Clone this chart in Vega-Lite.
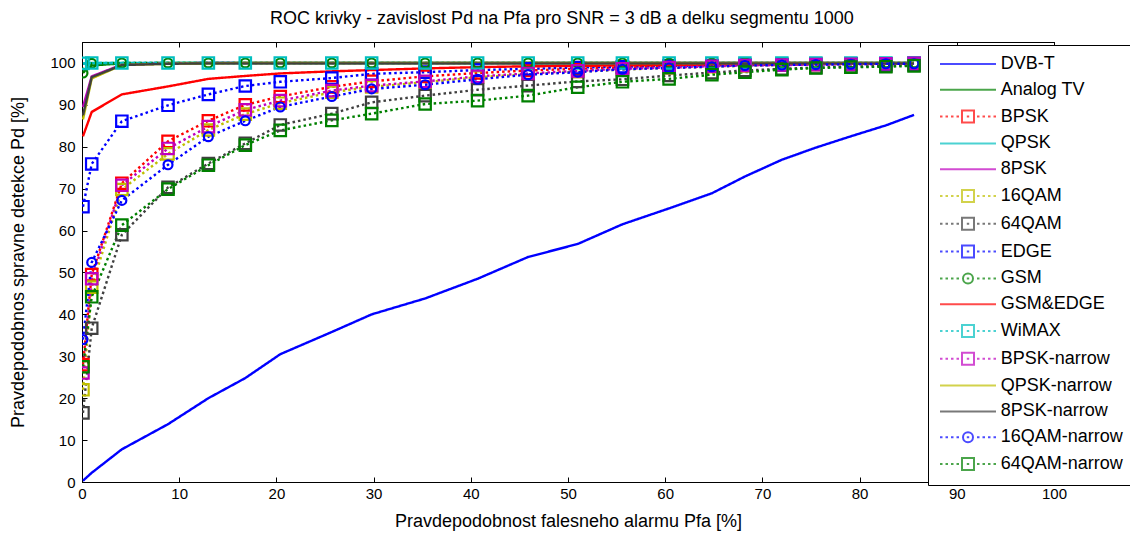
{
"$schema": "https://vega.github.io/schema/vega-lite/v6.json",
"width": 972, "height": 440,
"autosize": "none",
"padding": {"left": 82, "top": 42, "right": 76, "bottom": 53},
"background": "white",
"config": {
  "font": "Liberation Sans",
  "view": {"stroke": "black", "strokeWidth": 1},
  "axis": {"grid": false, "domainColor": "black", "tickColor": "black", "labelColor": "black", "titleColor": "black", "labelFontSize": 15, "titleFontSize": 18, "titleFontWeight": "normal", "labelFont": "Liberation Sans", "titleFont": "Liberation Sans", "labelFlush": false, "labelOverlap": false}
},
"title": {"text": "ROC krivky - zavislost Pd na Pfa pro SNR = 3 dB a delku segmentu 1000", "fontSize": 18, "fontWeight": "normal", "font": "Liberation Sans", "color": "black", "anchor": "middle", "baseline": "alphabetic", "offset": 0, "dx": -6},
"data": {"values": [
{"s":"DVB-T","x":0.1,"y":0.3},{"s":"DVB-T","x":1.0,"y":2.2},{"s":"DVB-T","x":4.1,"y":7.8},{"s":"DVB-T","x":8.85,"y":13.8},{"s":"DVB-T","x":13.0,"y":20.0},{"s":"DVB-T","x":16.8,"y":24.8},{"s":"DVB-T","x":20.4,"y":30.5},{"s":"DVB-T","x":25.7,"y":35.8},{"s":"DVB-T","x":29.8,"y":40.0},{"s":"DVB-T","x":35.3,"y":43.8},{"s":"DVB-T","x":40.7,"y":48.5},{"s":"DVB-T","x":45.9,"y":53.7},{"s":"DVB-T","x":51.0,"y":56.8},{"s":"DVB-T","x":55.6,"y":61.5},{"s":"DVB-T","x":60.4,"y":65.3},{"s":"DVB-T","x":64.8,"y":68.9},{"s":"DVB-T","x":68.2,"y":72.9},{"s":"DVB-T","x":72.0,"y":76.9},{"s":"DVB-T","x":75.5,"y":79.8},{"s":"DVB-T","x":79.1,"y":82.5},{"s":"DVB-T","x":82.7,"y":85.1},{"s":"DVB-T","x":85.6,"y":87.6},
{"s":"Analog TV","x":0.1,"y":97.8},{"s":"Analog TV","x":1.0,"y":99.4},{"s":"Analog TV","x":4.1,"y":99.9},{"s":"Analog TV","x":8.85,"y":100},{"s":"Analog TV","x":13.0,"y":100},{"s":"Analog TV","x":16.8,"y":100},{"s":"Analog TV","x":20.4,"y":100},{"s":"Analog TV","x":25.7,"y":100},{"s":"Analog TV","x":29.8,"y":100},{"s":"Analog TV","x":35.3,"y":100},{"s":"Analog TV","x":40.7,"y":100},{"s":"Analog TV","x":45.9,"y":100},{"s":"Analog TV","x":51.0,"y":100},{"s":"Analog TV","x":55.6,"y":100},{"s":"Analog TV","x":60.4,"y":100},{"s":"Analog TV","x":64.8,"y":100},{"s":"Analog TV","x":68.2,"y":100},{"s":"Analog TV","x":72.0,"y":100},{"s":"Analog TV","x":75.5,"y":100},{"s":"Analog TV","x":79.1,"y":100},{"s":"Analog TV","x":82.7,"y":100},{"s":"Analog TV","x":85.6,"y":100},
{"s":"BPSK","x":0.1,"y":28},{"s":"BPSK","x":1.0,"y":49.5},{"s":"BPSK","x":4.1,"y":71.3},{"s":"BPSK","x":8.85,"y":81.3},{"s":"BPSK","x":13.0,"y":86.2},{"s":"BPSK","x":16.8,"y":90.0},{"s":"BPSK","x":20.4,"y":92.0},{"s":"BPSK","x":25.7,"y":94.3},{"s":"BPSK","x":29.8,"y":95.6},{"s":"BPSK","x":35.3,"y":96.8},{"s":"BPSK","x":40.7,"y":97.6},{"s":"BPSK","x":45.9,"y":98.2},{"s":"BPSK","x":51.0,"y":98.6},{"s":"BPSK","x":55.6,"y":98.9},{"s":"BPSK","x":60.4,"y":99.1},{"s":"BPSK","x":64.8,"y":99.3},{"s":"BPSK","x":68.2,"y":99.5},{"s":"BPSK","x":72.0,"y":99.6},{"s":"BPSK","x":75.5,"y":99.7},{"s":"BPSK","x":79.1,"y":99.8},{"s":"BPSK","x":82.7,"y":99.8},{"s":"BPSK","x":85.6,"y":99.9},
{"s":"QPSK","x":0.1,"y":99.8},{"s":"QPSK","x":1.0,"y":100},{"s":"QPSK","x":4.1,"y":100},{"s":"QPSK","x":8.85,"y":100},{"s":"QPSK","x":13.0,"y":100},{"s":"QPSK","x":16.8,"y":100},{"s":"QPSK","x":20.4,"y":100},{"s":"QPSK","x":25.7,"y":100},{"s":"QPSK","x":29.8,"y":100},{"s":"QPSK","x":35.3,"y":100},{"s":"QPSK","x":40.7,"y":100},{"s":"QPSK","x":45.9,"y":100},{"s":"QPSK","x":51.0,"y":100},{"s":"QPSK","x":55.6,"y":100},{"s":"QPSK","x":60.4,"y":100},{"s":"QPSK","x":64.8,"y":100},{"s":"QPSK","x":68.2,"y":100},{"s":"QPSK","x":72.0,"y":100},{"s":"QPSK","x":75.5,"y":100},{"s":"QPSK","x":79.1,"y":100},{"s":"QPSK","x":82.7,"y":100},{"s":"QPSK","x":85.6,"y":100},
{"s":"8PSK","x":0.1,"y":89.5},{"s":"8PSK","x":1.0,"y":96.8},{"s":"8PSK","x":4.1,"y":99.6},{"s":"8PSK","x":8.85,"y":99.9},{"s":"8PSK","x":13.0,"y":100},{"s":"8PSK","x":16.8,"y":100},{"s":"8PSK","x":20.4,"y":100},{"s":"8PSK","x":25.7,"y":100},{"s":"8PSK","x":29.8,"y":100},{"s":"8PSK","x":35.3,"y":100},{"s":"8PSK","x":40.7,"y":100},{"s":"8PSK","x":45.9,"y":100},{"s":"8PSK","x":51.0,"y":100},{"s":"8PSK","x":55.6,"y":100},{"s":"8PSK","x":60.4,"y":100},{"s":"8PSK","x":64.8,"y":100},{"s":"8PSK","x":68.2,"y":100},{"s":"8PSK","x":72.0,"y":100},{"s":"8PSK","x":75.5,"y":100},{"s":"8PSK","x":79.1,"y":100},{"s":"8PSK","x":82.7,"y":100},{"s":"8PSK","x":85.6,"y":100},
{"s":"16QAM","x":0.1,"y":22},{"s":"16QAM","x":1.0,"y":46.5},{"s":"16QAM","x":4.1,"y":69.8},{"s":"16QAM","x":8.85,"y":78.3},{"s":"16QAM","x":13.0,"y":84.0},{"s":"16QAM","x":16.8,"y":87.8},{"s":"16QAM","x":20.4,"y":90.4},{"s":"16QAM","x":25.7,"y":93.0},{"s":"16QAM","x":29.8,"y":94.3},{"s":"16QAM","x":35.3,"y":95.4},{"s":"16QAM","x":40.7,"y":96.6},{"s":"16QAM","x":45.9,"y":97.3},{"s":"16QAM","x":51.0,"y":97.9},{"s":"16QAM","x":55.6,"y":98.4},{"s":"16QAM","x":60.4,"y":98.8},{"s":"16QAM","x":64.8,"y":99.1},{"s":"16QAM","x":68.2,"y":99.3},{"s":"16QAM","x":72.0,"y":99.5},{"s":"16QAM","x":75.5,"y":99.6},{"s":"16QAM","x":79.1,"y":99.7},{"s":"16QAM","x":82.7,"y":99.8},{"s":"16QAM","x":85.6,"y":99.8},
{"s":"64QAM","x":0.1,"y":16.5},{"s":"64QAM","x":1.0,"y":36.7},{"s":"64QAM","x":4.1,"y":59.0},{"s":"64QAM","x":8.85,"y":70.3},{"s":"64QAM","x":13.0,"y":76.0},{"s":"64QAM","x":16.8,"y":80.8},{"s":"64QAM","x":20.4,"y":85.2},{"s":"64QAM","x":25.7,"y":87.9},{"s":"64QAM","x":29.8,"y":90.6},{"s":"64QAM","x":35.3,"y":92.2},{"s":"64QAM","x":40.7,"y":93.6},{"s":"64QAM","x":45.9,"y":94.6},{"s":"64QAM","x":51.0,"y":95.6},{"s":"64QAM","x":55.6,"y":96.1},{"s":"64QAM","x":60.4,"y":97.0},{"s":"64QAM","x":64.8,"y":97.7},{"s":"64QAM","x":68.2,"y":98.2},{"s":"64QAM","x":72.0,"y":98.6},{"s":"64QAM","x":75.5,"y":98.9},{"s":"64QAM","x":79.1,"y":99.1},{"s":"64QAM","x":82.7,"y":99.3},{"s":"64QAM","x":85.6,"y":99.5},
{"s":"EDGE","x":0.1,"y":65.7},{"s":"EDGE","x":1.0,"y":75.9},{"s":"EDGE","x":4.1,"y":86.1},{"s":"EDGE","x":8.85,"y":89.9},{"s":"EDGE","x":13.0,"y":92.5},{"s":"EDGE","x":16.8,"y":94.5},{"s":"EDGE","x":20.4,"y":95.5},{"s":"EDGE","x":25.7,"y":96.4},{"s":"EDGE","x":29.8,"y":97.4},{"s":"EDGE","x":35.3,"y":97.8},{"s":"EDGE","x":40.7,"y":98.3},{"s":"EDGE","x":45.9,"y":98.6},{"s":"EDGE","x":51.0,"y":98.9},{"s":"EDGE","x":55.6,"y":99.1},{"s":"EDGE","x":60.4,"y":99.3},{"s":"EDGE","x":64.8,"y":99.4},{"s":"EDGE","x":68.2,"y":99.5},{"s":"EDGE","x":72.0,"y":99.6},{"s":"EDGE","x":75.5,"y":99.7},{"s":"EDGE","x":79.1,"y":99.8},{"s":"EDGE","x":82.7,"y":99.8},{"s":"EDGE","x":85.6,"y":99.9},
{"s":"GSM","x":0.1,"y":97.6},{"s":"GSM","x":1.0,"y":99.9},{"s":"GSM","x":4.1,"y":100},{"s":"GSM","x":8.85,"y":100},{"s":"GSM","x":13.0,"y":100},{"s":"GSM","x":16.8,"y":100},{"s":"GSM","x":20.4,"y":100},{"s":"GSM","x":25.7,"y":100},{"s":"GSM","x":29.8,"y":100},{"s":"GSM","x":35.3,"y":100},{"s":"GSM","x":40.7,"y":100},{"s":"GSM","x":45.9,"y":100},{"s":"GSM","x":51.0,"y":100},{"s":"GSM","x":55.6,"y":100},{"s":"GSM","x":60.4,"y":100},{"s":"GSM","x":64.8,"y":100},{"s":"GSM","x":68.2,"y":100},{"s":"GSM","x":72.0,"y":100},{"s":"GSM","x":75.5,"y":100},{"s":"GSM","x":79.1,"y":100},{"s":"GSM","x":82.7,"y":100},{"s":"GSM","x":85.6,"y":100},
{"s":"GSM&EDGE","x":0.1,"y":82.5},{"s":"GSM&EDGE","x":1.0,"y":88.3},{"s":"GSM&EDGE","x":4.1,"y":92.5},{"s":"GSM&EDGE","x":8.85,"y":94.4},{"s":"GSM&EDGE","x":13.0,"y":96.2},{"s":"GSM&EDGE","x":16.8,"y":96.9},{"s":"GSM&EDGE","x":20.4,"y":97.5},{"s":"GSM&EDGE","x":25.7,"y":98.0},{"s":"GSM&EDGE","x":29.8,"y":98.3},{"s":"GSM&EDGE","x":35.3,"y":98.7},{"s":"GSM&EDGE","x":40.7,"y":99.0},{"s":"GSM&EDGE","x":45.9,"y":99.2},{"s":"GSM&EDGE","x":51.0,"y":99.3},{"s":"GSM&EDGE","x":55.6,"y":99.4},{"s":"GSM&EDGE","x":60.4,"y":99.5},{"s":"GSM&EDGE","x":64.8,"y":99.6},{"s":"GSM&EDGE","x":68.2,"y":99.7},{"s":"GSM&EDGE","x":72.0,"y":99.7},{"s":"GSM&EDGE","x":75.5,"y":99.8},{"s":"GSM&EDGE","x":79.1,"y":99.8},{"s":"GSM&EDGE","x":82.7,"y":99.9},{"s":"GSM&EDGE","x":85.6,"y":99.9},
{"s":"WiMAX","x":0.1,"y":99.9},{"s":"WiMAX","x":1.0,"y":100},{"s":"WiMAX","x":4.1,"y":100},{"s":"WiMAX","x":8.85,"y":100},{"s":"WiMAX","x":13.0,"y":100},{"s":"WiMAX","x":16.8,"y":100},{"s":"WiMAX","x":20.4,"y":100},{"s":"WiMAX","x":25.7,"y":100},{"s":"WiMAX","x":29.8,"y":100},{"s":"WiMAX","x":35.3,"y":100},{"s":"WiMAX","x":40.7,"y":100},{"s":"WiMAX","x":45.9,"y":100},{"s":"WiMAX","x":51.0,"y":100},{"s":"WiMAX","x":55.6,"y":100},{"s":"WiMAX","x":60.4,"y":100},{"s":"WiMAX","x":64.8,"y":100},{"s":"WiMAX","x":68.2,"y":100},{"s":"WiMAX","x":72.0,"y":100},{"s":"WiMAX","x":75.5,"y":100},{"s":"WiMAX","x":79.1,"y":100},{"s":"WiMAX","x":82.7,"y":100},{"s":"WiMAX","x":85.6,"y":100},
{"s":"BPSK-narrow","x":0.1,"y":26},{"s":"BPSK-narrow","x":1.0,"y":48.5},{"s":"BPSK-narrow","x":4.1,"y":70.8},{"s":"BPSK-narrow","x":8.85,"y":79.6},{"s":"BPSK-narrow","x":13.0,"y":84.8},{"s":"BPSK-narrow","x":16.8,"y":88.8},{"s":"BPSK-narrow","x":20.4,"y":91.0},{"s":"BPSK-narrow","x":25.7,"y":93.4},{"s":"BPSK-narrow","x":29.8,"y":94.6},{"s":"BPSK-narrow","x":35.3,"y":95.6},{"s":"BPSK-narrow","x":40.7,"y":96.8},{"s":"BPSK-narrow","x":45.9,"y":97.5},{"s":"BPSK-narrow","x":51.0,"y":98.1},{"s":"BPSK-narrow","x":55.6,"y":98.6},{"s":"BPSK-narrow","x":60.4,"y":98.9},{"s":"BPSK-narrow","x":64.8,"y":99.2},{"s":"BPSK-narrow","x":68.2,"y":99.4},{"s":"BPSK-narrow","x":72.0,"y":99.5},{"s":"BPSK-narrow","x":75.5,"y":99.6},{"s":"BPSK-narrow","x":79.1,"y":99.7},{"s":"BPSK-narrow","x":82.7,"y":99.8},{"s":"BPSK-narrow","x":85.6,"y":99.9},
{"s":"QPSK-narrow","x":0.1,"y":86.5},{"s":"QPSK-narrow","x":1.0,"y":96.3},{"s":"QPSK-narrow","x":4.1,"y":99.5},{"s":"QPSK-narrow","x":8.85,"y":99.8},{"s":"QPSK-narrow","x":13.0,"y":99.9},{"s":"QPSK-narrow","x":16.8,"y":100},{"s":"QPSK-narrow","x":20.4,"y":100},{"s":"QPSK-narrow","x":25.7,"y":100},{"s":"QPSK-narrow","x":29.8,"y":100},{"s":"QPSK-narrow","x":35.3,"y":100},{"s":"QPSK-narrow","x":40.7,"y":100},{"s":"QPSK-narrow","x":45.9,"y":100},{"s":"QPSK-narrow","x":51.0,"y":100},{"s":"QPSK-narrow","x":55.6,"y":100},{"s":"QPSK-narrow","x":60.4,"y":100},{"s":"QPSK-narrow","x":64.8,"y":100},{"s":"QPSK-narrow","x":68.2,"y":100},{"s":"QPSK-narrow","x":72.0,"y":100},{"s":"QPSK-narrow","x":75.5,"y":100},{"s":"QPSK-narrow","x":79.1,"y":100},{"s":"QPSK-narrow","x":82.7,"y":100},{"s":"QPSK-narrow","x":85.6,"y":100},
{"s":"8PSK-narrow","x":0.1,"y":87.5},{"s":"8PSK-narrow","x":1.0,"y":96.6},{"s":"8PSK-narrow","x":4.1,"y":99.5},{"s":"8PSK-narrow","x":8.85,"y":99.8},{"s":"8PSK-narrow","x":13.0,"y":99.9},{"s":"8PSK-narrow","x":16.8,"y":99.9},{"s":"8PSK-narrow","x":20.4,"y":99.9},{"s":"8PSK-narrow","x":25.7,"y":99.9},{"s":"8PSK-narrow","x":29.8,"y":99.9},{"s":"8PSK-narrow","x":35.3,"y":99.9},{"s":"8PSK-narrow","x":40.7,"y":99.9},{"s":"8PSK-narrow","x":45.9,"y":99.9},{"s":"8PSK-narrow","x":51.0,"y":99.9},{"s":"8PSK-narrow","x":55.6,"y":99.9},{"s":"8PSK-narrow","x":60.4,"y":99.9},{"s":"8PSK-narrow","x":64.8,"y":99.9},{"s":"8PSK-narrow","x":68.2,"y":99.9},{"s":"8PSK-narrow","x":72.0,"y":99.9},{"s":"8PSK-narrow","x":75.5,"y":99.9},{"s":"8PSK-narrow","x":79.1,"y":99.9},{"s":"8PSK-narrow","x":82.7,"y":99.9},{"s":"8PSK-narrow","x":85.6,"y":99.9},
{"s":"16QAM-narrow","x":0.1,"y":34.0},{"s":"16QAM-narrow","x":1.0,"y":52.4},{"s":"16QAM-narrow","x":4.1,"y":67.2},{"s":"16QAM-narrow","x":8.85,"y":75.7},{"s":"16QAM-narrow","x":13.0,"y":82.4},{"s":"16QAM-narrow","x":16.8,"y":86.2},{"s":"16QAM-narrow","x":20.4,"y":89.5},{"s":"16QAM-narrow","x":25.7,"y":92.0},{"s":"16QAM-narrow","x":29.8,"y":93.8},{"s":"16QAM-narrow","x":35.3,"y":94.8},{"s":"16QAM-narrow","x":40.7,"y":96.1},{"s":"16QAM-narrow","x":45.9,"y":97.2},{"s":"16QAM-narrow","x":51.0,"y":97.8},{"s":"16QAM-narrow","x":55.6,"y":98.5},{"s":"16QAM-narrow","x":60.4,"y":98.8},{"s":"16QAM-narrow","x":64.8,"y":99.1},{"s":"16QAM-narrow","x":68.2,"y":99.4},{"s":"16QAM-narrow","x":72.0,"y":99.5},{"s":"16QAM-narrow","x":75.5,"y":99.6},{"s":"16QAM-narrow","x":79.1,"y":99.7},{"s":"16QAM-narrow","x":82.7,"y":99.8},{"s":"16QAM-narrow","x":85.6,"y":99.8},
{"s":"64QAM-narrow","x":0.1,"y":27.5},{"s":"64QAM-narrow","x":1.0,"y":44.2},{"s":"64QAM-narrow","x":4.1,"y":61.3},{"s":"64QAM-narrow","x":8.85,"y":69.9},{"s":"64QAM-narrow","x":13.0,"y":75.6},{"s":"64QAM-narrow","x":16.8,"y":80.4},{"s":"64QAM-narrow","x":20.4,"y":83.9},{"s":"64QAM-narrow","x":25.7,"y":86.3},{"s":"64QAM-narrow","x":29.8,"y":87.9},{"s":"64QAM-narrow","x":35.3,"y":90.2},{"s":"64QAM-narrow","x":40.7,"y":91.0},{"s":"64QAM-narrow","x":45.9,"y":92.2},{"s":"64QAM-narrow","x":51.0,"y":94.2},{"s":"64QAM-narrow","x":55.6,"y":95.5},{"s":"64QAM-narrow","x":60.4,"y":96.2},{"s":"64QAM-narrow","x":64.8,"y":97.2},{"s":"64QAM-narrow","x":68.2,"y":97.8},{"s":"64QAM-narrow","x":72.0,"y":98.4},{"s":"64QAM-narrow","x":75.5,"y":98.8},{"s":"64QAM-narrow","x":79.1,"y":99.0},{"s":"64QAM-narrow","x":82.7,"y":99.1},{"s":"64QAM-narrow","x":85.6,"y":99.3}
]},
"resolve": {"scale": {"color": "independent", "shape": "independent", "strokeDash": "independent"}, "axis": {"x": "independent", "y": "independent"}},
"layer": [
{
  "mark": {"type": "line", "strokeWidth": 2.4, "strokeCap": "butt", "clip": true},
  "encoding": {
    "x": {"field": "x", "type": "quantitative", "scale": {"domain": [0, 100], "nice": false, "zero": false},
      "axis": {"orient": "bottom", "values": [0,10,20,30,40,50,60,70,80,90,100], "tickSize": -5, "labelPadding": 9, "title": "Pravdepodobnost falesneho alarmu Pfa [%]", "titlePadding": 11}},
    "y": {"field": "y", "type": "quantitative", "scale": {"domain": [0, 105], "nice": false},
      "axis": {"orient": "left", "values": [0,10,20,30,40,50,60,70,80,90,100], "tickSize": -5, "labelPadding": 12, "title": "Pravdepodobnos spravne detekce Pd [%]", "titlePadding": 22}},
    "color": {"field": "s", "type": "nominal", "legend": null, "sort": null,
      "scale": {"domain": ["DVB-T","Analog TV","BPSK","QPSK","8PSK","16QAM","64QAM","EDGE","GSM","GSM&EDGE","WiMAX","BPSK-narrow","QPSK-narrow","8PSK-narrow","16QAM-narrow","64QAM-narrow"],
                "range": ["#0000FF","#008000","#FF0000","#00BFBF","#BF00BF","#BFBF00","#404040","#0000FF","#008000","#FF0000","#00BFBF","#BF00BF","#BFBF00","#404040","#0000FF","#008000"]}},
    "strokeDash": {"field": "s", "type": "nominal", "legend": null,
      "scale": {"domain": ["DVB-T","Analog TV","BPSK","QPSK","8PSK","16QAM","64QAM","EDGE","GSM","GSM&EDGE","WiMAX","BPSK-narrow","QPSK-narrow","8PSK-narrow","16QAM-narrow","64QAM-narrow"],
                "range": [[1,0],[1,0],[2.5,3],[1,0],[1,0],[2.5,3],[2.5,3],[2.5,3],[2.5,3],[1,0],[2.5,3],[2.5,3],[1,0],[1,0],[2.5,3],[2.5,3]]}}
  }
},
{
  "transform": [{"filter": {"field": "s", "oneOf": ["BPSK","16QAM","64QAM","EDGE","GSM","WiMAX","BPSK-narrow","16QAM-narrow","64QAM-narrow"]}}],
  "mark": {"type": "point", "filled": false, "strokeWidth": 2.2, "opacity": 1, "clip": true},
  "encoding": {
    "x": {"field": "x", "type": "quantitative", "scale": {"domain": [0, 100], "nice": false, "zero": false},
      "axis": {"orient": "top", "values": [0,10,20,30,40,50,60,70,80,90,100], "tickSize": -5, "labels": false, "title": null}},
    "y": {"field": "y", "type": "quantitative", "scale": {"domain": [0, 105], "nice": false},
      "axis": {"orient": "right", "values": [0,10,20,30,40,50,60,70,80,90,100], "tickSize": -5, "labels": false, "title": null}},
    "color": {"field": "s", "type": "nominal", "legend": null,
      "scale": {"domain": ["BPSK","16QAM","64QAM","EDGE","GSM","WiMAX","BPSK-narrow","16QAM-narrow","64QAM-narrow"],
                "range": ["#FF0000","#BFBF00","#404040","#0000FF","#008000","#00BFBF","#BF00BF","#0000FF","#008000"]}},
    "shape": {"field": "s", "type": "nominal", "legend": null,
      "scale": {"domain": ["BPSK","16QAM","64QAM","EDGE","GSM","WiMAX","BPSK-narrow","16QAM-narrow","64QAM-narrow"],
                "range": ["square","square","square","square","circle","square","square","circle","square"]}},
    "size": {"condition": {"test": "datum.s === 'GSM' || datum.s === '16QAM-narrow'", "value": 80}, "value": 130}
  }
},
{
  "transform": [{"filter": "false"}],
  "mark": {"type": "point", "filled": false, "strokeWidth": 2},
  "encoding": {
    "x": {"field": "x", "type": "quantitative", "axis": null},
    "y": {"field": "y", "type": "quantitative", "axis": null},
    "color": {"field": "s", "type": "nominal",
      "scale": {"domain": ["DVB-T","Analog TV","BPSK","QPSK","8PSK","16QAM","64QAM","EDGE","GSM","GSM&EDGE","WiMAX","BPSK-narrow","QPSK-narrow","8PSK-narrow","16QAM-narrow","64QAM-narrow"],
                "range": ["#0000FF","#008000","#FF0000","#00BFBF","#BF00BF","#BFBF00","#404040","#0000FF","#008000","#FF0000","#00BFBF","#BF00BF","#BFBF00","#404040","#0000FF","#008000"]},
      "legend": {"orient": "none", "legendX": 846, "legendY": 3, "title": null, "padding": 10, "strokeColor": "black", "fillColor": "white", "labelFont": "Liberation Sans", "labelFontSize": 18, "labelColor": "black", "symbolSize": 4, "symbolStrokeWidth": 2, "symbolOffset": 21, "labelOffset": 23.7, "rowPadding": 7.8, "labelLimit": 300, "cornerRadius": 0}},
    "shape": {"field": "s", "type": "nominal",
      "scale": {"domain": ["DVB-T","Analog TV","BPSK","QPSK","8PSK","16QAM","64QAM","EDGE","GSM","GSM&EDGE","WiMAX","BPSK-narrow","QPSK-narrow","8PSK-narrow","16QAM-narrow","64QAM-narrow"],
                "range": [
"M-28,0H28",
"M-28,0H28",
"M-28,0h2.5M-22.5,0h2.5M-17,0h2.5M-11.5,0h2.5M-6,-6h12v12h-12ZM-1.2,0h2.4M9,0h2.5M14.5,0h2.5M20,0h2.5M25.5,0h2.5",
"M-28,0H28",
"M-28,0H28",
"M-28,0h2.5M-22.5,0h2.5M-17,0h2.5M-11.5,0h2.5M-6,-6h12v12h-12ZM-1.2,0h2.4M9,0h2.5M14.5,0h2.5M20,0h2.5M25.5,0h2.5",
"M-28,0h2.5M-22.5,0h2.5M-17,0h2.5M-11.5,0h2.5M-6,-6h12v12h-12ZM-1.2,0h2.4M9,0h2.5M14.5,0h2.5M20,0h2.5M25.5,0h2.5",
"M-28,0h2.5M-22.5,0h2.5M-17,0h2.5M-11.5,0h2.5M-6,-6h12v12h-12ZM-1.2,0h2.4M9,0h2.5M14.5,0h2.5M20,0h2.5M25.5,0h2.5",
"M-28,0h2.5M-22.5,0h2.5M-17,0h2.5M-11.5,0h2.5M5,0A5 5 0 1 1 -5 0A5 5 0 1 1 5 0M-1.2,0h2.4M9,0h2.5M14.5,0h2.5M20,0h2.5M25.5,0h2.5",
"M-28,0H28",
"M-28,0h2.5M-22.5,0h2.5M-17,0h2.5M-11.5,0h2.5M-6,-6h12v12h-12ZM-1.2,0h2.4M9,0h2.5M14.5,0h2.5M20,0h2.5M25.5,0h2.5",
"M-28,0h2.5M-22.5,0h2.5M-17,0h2.5M-11.5,0h2.5M-6,-6h12v12h-12ZM-1.2,0h2.4M9,0h2.5M14.5,0h2.5M20,0h2.5M25.5,0h2.5",
"M-28,0H28",
"M-28,0H28",
"M-28,0h2.5M-22.5,0h2.5M-17,0h2.5M-11.5,0h2.5M5,0A5 5 0 1 1 -5 0A5 5 0 1 1 5 0M-1.2,0h2.4M9,0h2.5M14.5,0h2.5M20,0h2.5M25.5,0h2.5",
"M-28,0h2.5M-22.5,0h2.5M-17,0h2.5M-11.5,0h2.5M-6,-6h12v12h-12ZM-1.2,0h2.4M9,0h2.5M14.5,0h2.5M20,0h2.5M25.5,0h2.5"
]},
      "legend": {"orient": "none", "legendX": 846, "legendY": 3, "title": null, "padding": 10, "strokeColor": "black", "fillColor": "white", "labelFont": "Liberation Sans", "labelFontSize": 18, "labelColor": "black", "symbolSize": 4, "symbolStrokeWidth": 2, "symbolOffset": 21, "labelOffset": 23.7, "rowPadding": 7.8, "labelLimit": 300, "cornerRadius": 0}}
  }
}
]
}
